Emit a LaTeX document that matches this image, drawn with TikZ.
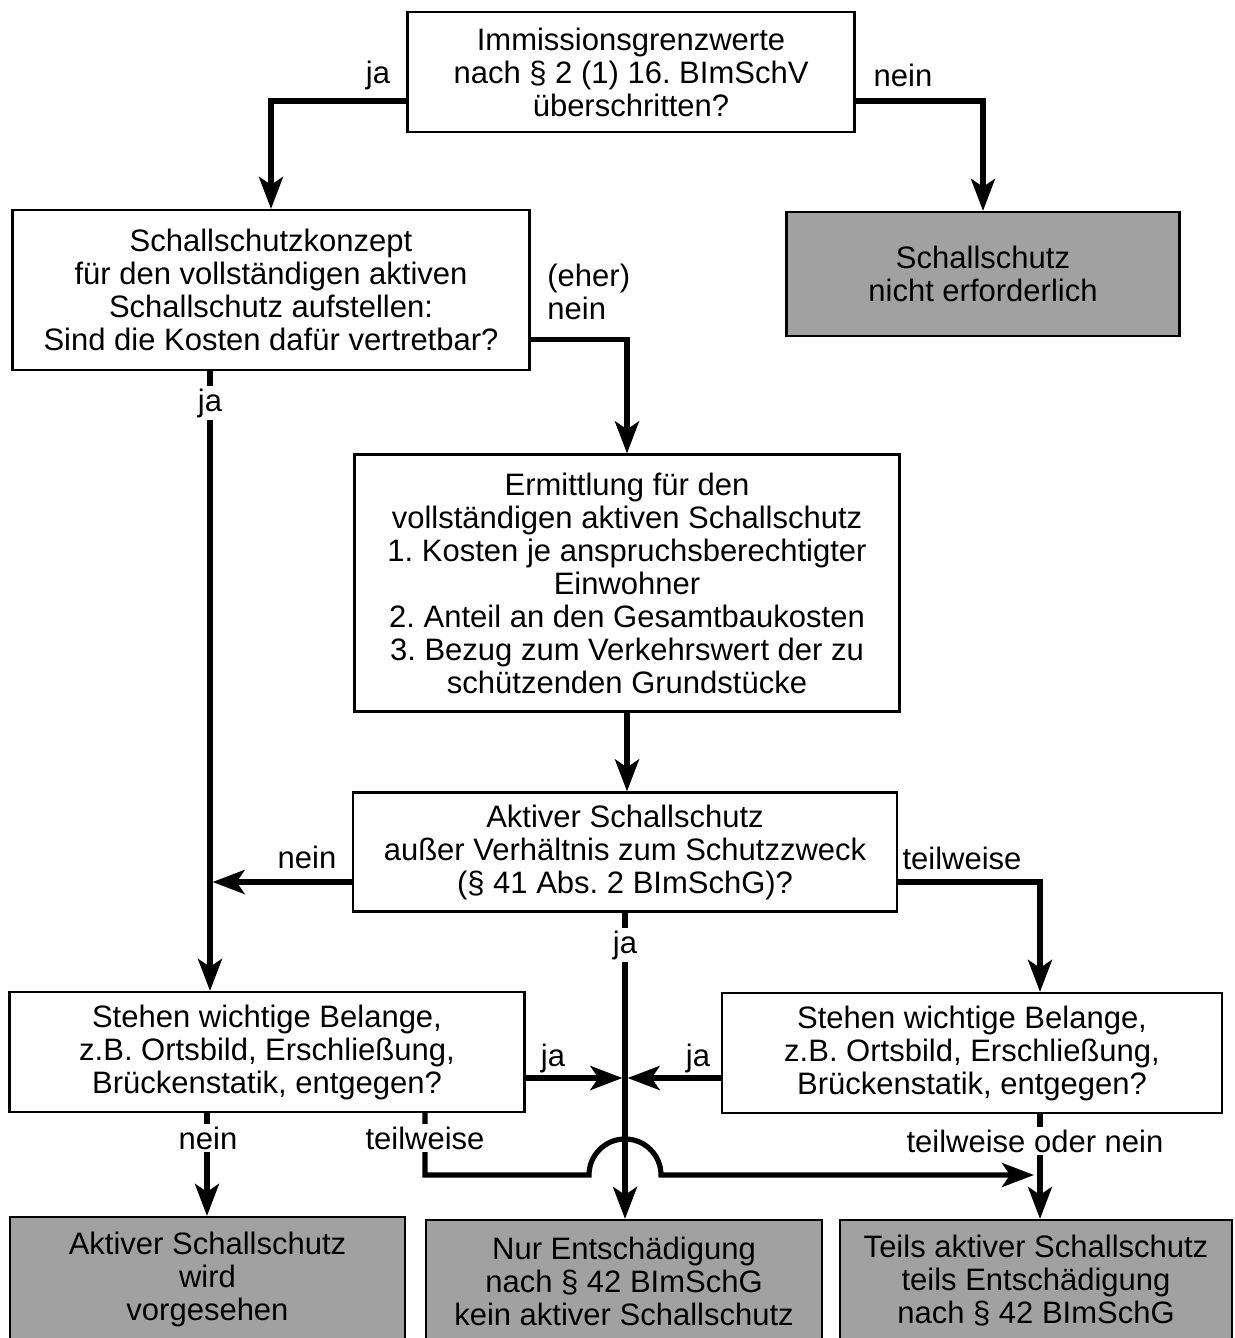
\documentclass[tikz,border=0pt]{standalone}
\usepackage{fontspec}
\setmainfont{Liberation Sans}
\usepackage{tikz}
\usetikzlibrary{arrows.meta, positioning, calc}
\frenchspacing
\definecolor{ergebnisgrau}{gray}{0.63}
\tikzstyle{frage} = [rectangle, draw=black, line width=1.1pt, align=center, text centered, inner sep=2pt, font=\fontsize{15.5}{16.5}\selectfont]
\tikzstyle{ergebnis} = [frage, fill=ergebnisgrau]
\tikzstyle{arrow} = [line width=2.6pt, -{Stealth[length=16pt, width=12pt, inset=4pt]}]
\tikzstyle{antwort} = [fill=white, inner sep=1.5pt, font=\fontsize{15.5}{16.5}\selectfont]

\begin{document}
\begin{tikzpicture}[x=1pt, y=1pt]
\useasboundingbox (0,0) rectangle (617.5,-669);

% Knoten
\node (grenz) [frage, minimum width=223.5pt, minimum height=60pt] at (315.5,-36) {Immissionsgrenzwerte\\nach § 2 (1) 16. BImSchV\\überschritten?};
\node (konzept) [frage, minimum width=258.5pt, minimum height=80pt] at (135.5,-145) {Schallschutzkonzept\\für den vollständigen aktiven\\Schallschutz aufstellen:\\Sind die Kosten dafür vertretbar?};
\node (nicht) [ergebnis, minimum width=196.5pt, minimum height=62pt] at (491.5,-137) {Schallschutz\\nicht erforderlich};
\node (ermitt) [frage, minimum width=272.5pt, minimum height=128.5pt] at (313.5,-291.5) {Ermittlung für den\\vollständigen aktiven Schallschutz\\1. Kosten je anspruchsberechtigter\\Einwohner\\2. Anteil an den Gesamtbaukosten\\3. Bezug zum Verkehrswert der zu\\schützenden Grundstücke};
\node (ausser) [frage, minimum width=272pt, minimum height=59.5pt] at (312.5,-426) {Aktiver Schallschutz\\außer Verhältnis zum Schutzzweck\\(§ 41 Abs. 2 BImSchG)?};
\node (belL) [frage, minimum width=257.5pt, minimum height=60pt] at (133.5,-526) {Stehen wichtige Belange,\\z.B. Ortsbild, Erschließung,\\Brückenstatik, entgegen?};
\node (belR) [frage, minimum width=250pt, minimum height=60pt] at (486,-526.5) {Stehen wichtige Belange,\\z.B. Ortsbild, Erschließung,\\Brückenstatik, entgegen?};
\node (aktiv) [ergebnis, minimum width=197.5pt, minimum height=62.5pt] at (103.75,-639.75) {Aktiver Schallschutz\\wird\\vorgesehen};
\node (nur) [ergebnis, minimum width=198pt, minimum height=61pt] at (312,-640.5) {Nur Entschädigung\\nach § 42 BImSchG\\kein aktiver Schallschutz};
\node (teils) [ergebnis, minimum width=196pt, minimum height=61pt] at (518,-640.5) {Teils aktiver Schallschutz\\teils Entschädigung\\nach § 42 BImSchG};

% Hilfspunkte
\coordinate (jaLinks) at ([xshift=-30.5pt]konzept.south);
\coordinate (neinLinks) at ([xshift=-30pt]belL.south);
\coordinate (teilLinks) at ([xshift=79pt]belL.south);
\coordinate (rechtsOben) at ([xshift=34pt]belR.north);
\coordinate (rechtsUnten) at ([xshift=34pt]belR.south);
\coordinate (hop) at (ausser.south |- 0,-587.5);

% Verbindungen
\draw [arrow] ([yshift=16pt]grenz.south west) -| (konzept.north);
\draw [arrow] ([yshift=16pt]grenz.south east) -| (nicht.north);
\draw [arrow] ([yshift=16pt]konzept.south east) -| (ermitt.north);
\draw [arrow] (jaLinks) -- (jaLinks |- belL.north);
\draw [arrow] (ermitt.south) -- (ermitt.south |- ausser.north);
\draw [arrow, shorten >=1.3pt] ([yshift=-15pt]ausser.west) -- ([yshift=-15pt]ausser.west -| jaLinks);
\draw [arrow] ([yshift=-15pt]ausser.east) -| (rechtsOben);
\draw [arrow] (ausser.south) -- (ausser.south |- nur.north);
\draw [arrow, shorten >=1.3pt] ([yshift=-13pt]belL.east) -- ([yshift=-13pt]belL.east -| ausser.south);
\draw [arrow, shorten >=1.3pt] ([yshift=-12.5pt]belR.west) -- ([yshift=-12.5pt]belR.west -| ausser.south);
\draw [arrow] (neinLinks) -- (neinLinks |- aktiv.north);
\draw [arrow, shorten >=3pt] (teilLinks) |- ([xshift=-18pt]hop) arc[start angle=180, end angle=0, radius=18pt] -- (rechtsUnten |- hop);
\draw [arrow] (rechtsUnten) -- (rechtsUnten |- teils.north);

% Antworten
\node (ja1) [antwort] at (189,-37.5) {ja};
\node (nein1) [antwort] at (451.5,-37.5) {nein};
\node (eher) [antwort, align=left, anchor=west] at (272,-145.75) {(eher)\\nein};
\node (ja2) [antwort] at (105,-201.5) {ja};
\node (nein2) [antwort] at (153.5,-428.5) {nein};
\node (teilw1) [antwort] at (481,-429) {teilweise};
\node (ja3) [antwort] at (312.5,-472.5) {ja};
\node (ja4) [antwort] at (276.5,-529) {ja};
\node (ja5) [antwort] at (349,-529) {ja};
\node (nein3) [antwort] at (104,-569) {nein};
\node (teilw2) [antwort] at (212.5,-569) {teilweise};
\node (toder) [antwort] at (517.5,-570.5) {teilweise oder nein};

\end{tikzpicture}
\end{document}
